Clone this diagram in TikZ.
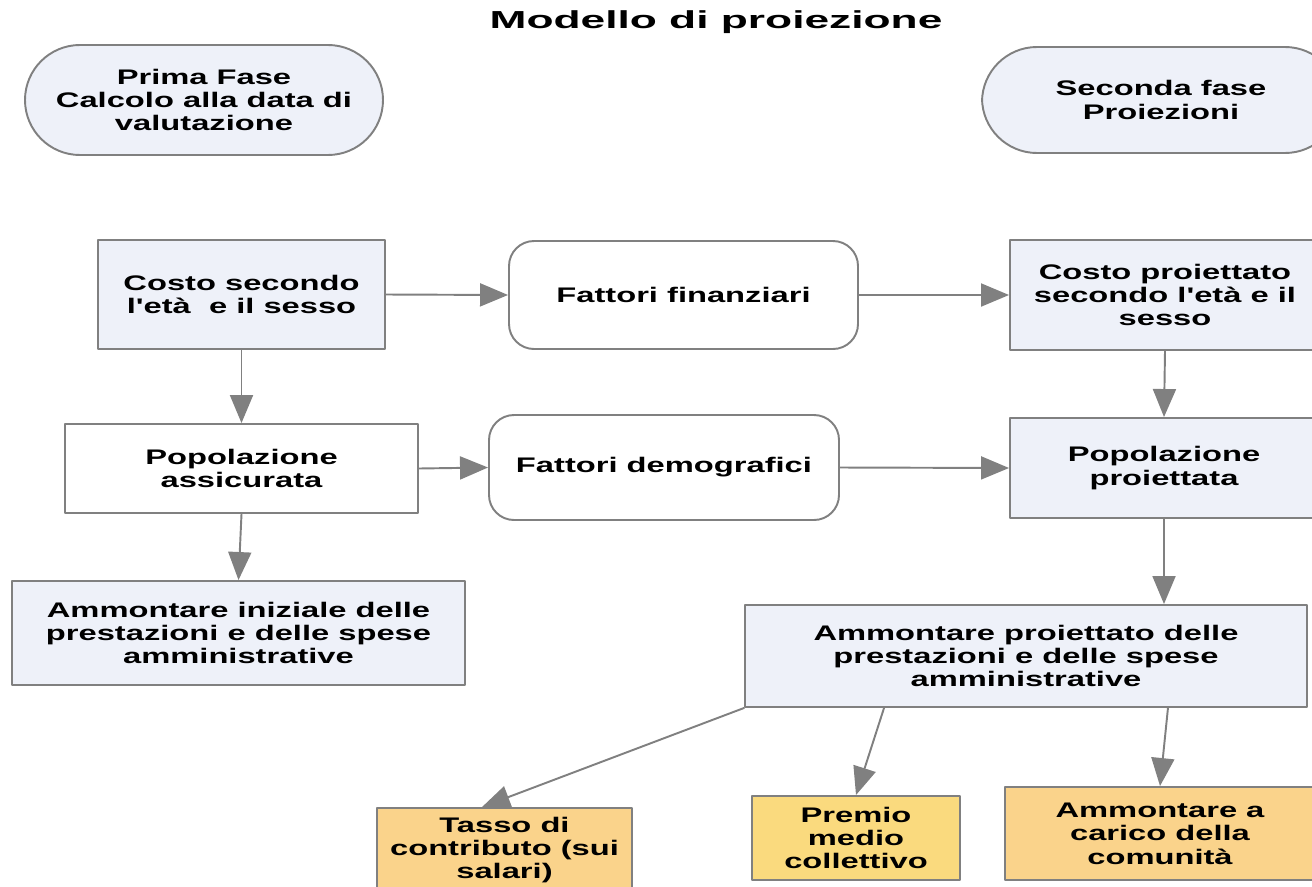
\documentclass[tikz,border=0pt]{standalone}
\usepackage{fontspec}
\newfontfamily\boxfont{Liberation Sans}[FakeStretch=1.55]
\newfontfamily\titlefont{Liberation Sans}[FakeStretch=1.8]
\usetikzlibrary{arrows.meta,calc}
\definecolor{grigio}{HTML}{808080}
\definecolor{azzurro}{HTML}{EEF1F9}
\definecolor{arancio}{HTML}{FAD38B}
\definecolor{giallo}{HTML}{FADA7E}
\tikzset{
  base/.style={draw=grigio,line width=1.1pt,align=center,inner sep=0pt,
    font=\boxfont\bfseries\fontsize{12}{13.3}\selectfont},
  fasebox/.style={base,fill=azzurro,rounded corners=1.1cm},
  blubox/.style={base,fill=azzurro},
  biancobox/.style={base,fill=white},
  tondobox/.style={base,fill=white,rounded corners=0.5cm},
  arancbox/.style={base,fill=arancio},
  freccia/.style={draw=grigio,line width=1.1pt,->}
}
\begin{document}
\begin{tikzpicture}[line cap=round,line join=round,>={Triangle[length=0.56cm,width=0.46cm]},x=1cm,y=1cm]
\useasboundingbox (0,0) rectangle (26.24,-17.72);
% titolo
\node[font=\titlefont\bfseries\fontsize{14}{16}\selectfont] (titolo) at (14.32,-0.44) {Modello di proiezione};
% fasi
\node[fasebox,minimum width=7.16cm,minimum height=2.2cm] (prima) at (4.08,-2.0) {Prima Fase\\Calcolo alla data di\\valutazione};
\node[fasebox,minimum width=7.16cm,minimum height=2.12cm] (seconda) at (23.22,-2.0) {Seconda fase\\Proiezioni};
% prima colonna
\node[blubox,minimum width=5.74cm,minimum height=2.18cm] (costo) at (4.83,-5.89) {Costo secondo\\l'età\ \ e il sesso};
\node[biancobox,minimum width=7.06cm,minimum height=1.78cm] (popass) at (4.83,-9.37) {Popolazione\\assicurata};
\node[blubox,minimum width=9.06cm,minimum height=2.08cm] (ammin) at (4.77,-12.66) {Ammontare iniziale delle\\prestazioni e delle spese\\amministrative};
% fattori
\node[tondobox,minimum width=6.98cm,minimum height=2.16cm] (finanz) at (13.67,-5.9) {Fattori finanziari};
\node[tondobox,minimum width=7.0cm,minimum height=2.1cm] (demog) at (13.28,-9.35) {Fattori demografici};
% proiezioni
\node[blubox,minimum width=6.2cm,minimum height=2.2cm] (costopr) at (23.3,-5.9) {Costo proiettato\\secondo l'età e il\\sesso};
\node[blubox,minimum width=6.16cm,minimum height=2.0cm] (poppr) at (23.28,-9.36) {Popolazione\\proiettata};
\node[blubox,minimum width=11.24cm,minimum height=2.04cm] (ammpr) at (20.52,-13.12) {Ammontare proiettato delle\\prestazioni e delle spese\\amministrative};
% risultati
\node[arancbox,minimum width=5.1cm,minimum height=1.68cm] (tasso) at (10.09,-17.0) {Tasso di\\contributo (sui\\salari)};
\node[arancbox,fill=giallo,minimum width=4.16cm,minimum height=1.68cm] (premio) at (17.12,-16.76) {Premio\\medio\\collettivo};
\node[arancbox,minimum width=6.2cm,minimum height=1.86cm] (carico) at (23.2,-16.67) {Ammontare a\\carico della\\comunità};
% frecce
\draw[freccia] (costo.east) -- (finanz.west);
\draw[freccia] (finanz.east) -- (costopr.west);
\draw[freccia] (costo.south) -- (popass.north);
\draw[freccia] (popass.east) -- (demog.west);
\draw[freccia] (demog.east) -- (poppr.west);
\draw[freccia] (costopr.south) -- (poppr.north);
\draw[freccia] (popass.south) -- (ammin.north);
\draw[freccia] (poppr.south) -- (poppr.south |- ammpr.north);
\draw[freccia] (ammpr.south west) -- ($(tasso.north)+(-0.45,0)$);
\draw[freccia] ($(ammpr.south west)+(2.8,0)$) -- (premio.north);
\draw[freccia] ($(ammpr.south east)+(-2.8,0)$) -- (carico.north);
\end{tikzpicture}
\end{document}
